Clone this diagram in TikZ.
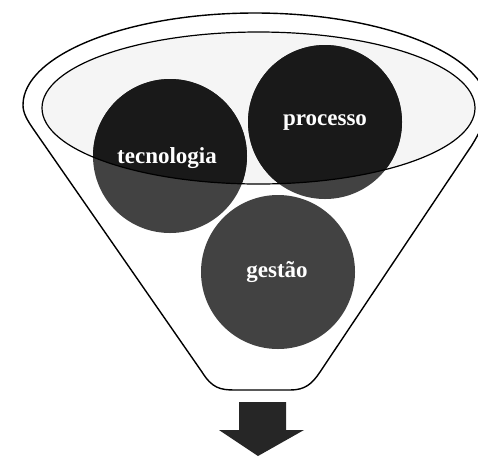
\documentclass[tikz,border=0pt]{standalone}
\usepackage{fontspec}
\setmainfont{Liberation Serif}
\usetikzlibrary{positioning}

\begin{document}
\begin{tikzpicture}[x=1pt,y=-1pt,
  lowball/.style={fill=black!74},
  topball/.style={fill=black!90},
  balltext/.style={text=white,font=\fontsize{23}{26}\selectfont\bfseries},
  funnel/.style={draw=black,line width=1.4pt}]

\useasboundingbox (0,0) rectangle (478,456);

% funil
\draw[funnel] (202,372) -- (34,130) .. controls (27,120) and (23,113) .. (23,105)
  .. controls (23,55) and (127,13) .. (255,13)
  .. controls (383,13) and (487,55) .. (487,105)
  .. controls (487,118) and (480,132) .. (472,145)
  -- (320,372) .. controls (312,384) and (305,390) .. (290,390)
  -- (235,390) .. controls (220,390) and (212,388) .. (202,372) -- cycle;

\fill[gray!8] (258.5,108) ellipse (216.5pt and 76pt);

\coordinate (tec) at (170,156);
\coordinate (pro) at (325,122);
\coordinate (ges) at (278,272);

\fill[lowball] (tec) circle (77pt);
\fill[lowball] (pro) circle (77pt);
\fill[lowball] (ges) circle (77pt);

\begin{scope}
\clip (258.5,108) ellipse (216.5pt and 76pt);
\fill[topball] (tec) circle (77pt);
\fill[topball] (pro) circle (77pt);
\end{scope}

\draw[line width=1.2pt] (258.5,108) ellipse (216.5pt and 76pt);

\node[balltext] (teclabel) at (167,158) {tecnologia};
\node[balltext] (prolabel) at (325,122) {processo};
\node[balltext] (geslabel) at (277,272) {gestão};

% seta
\fill[black!85] (239,430) -- (239,402) -- (286,402) -- (286,430) -- (304,430)
  -- (258,456) -- (219,430) -- cycle;

\end{tikzpicture}
\end{document}
